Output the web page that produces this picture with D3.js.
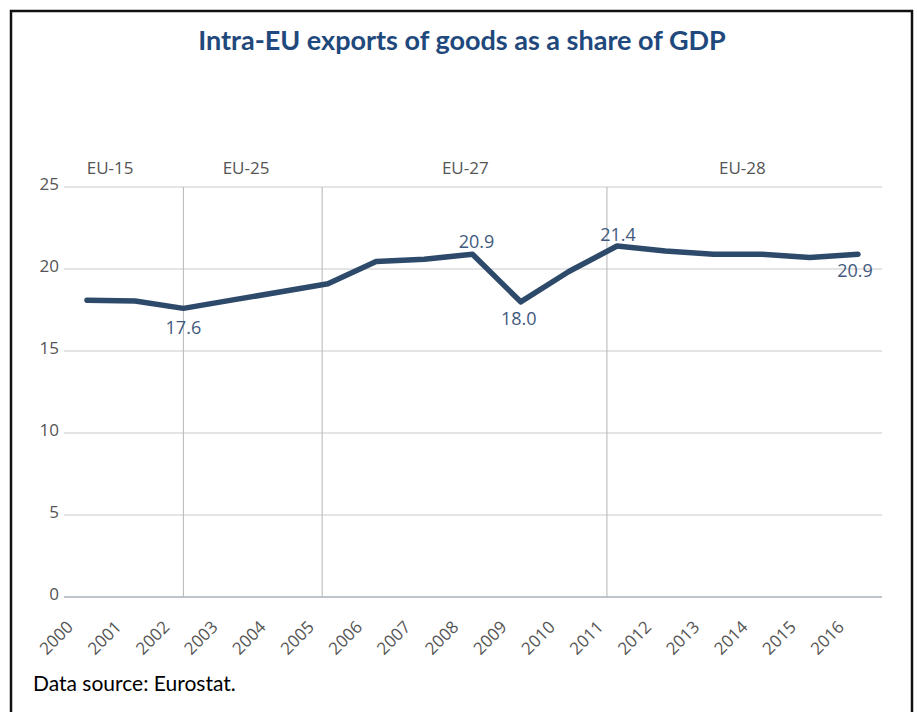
<!DOCTYPE html>
<html>
<head>
<meta charset="utf-8">
<script src="https://cdn.jsdelivr.net/npm/d3@7"></script>
<style>
  body { margin: 0; background: #fff; }
  svg { display: block; }
</style>
</head>
<body>
<div id="chart"></div>
<script>
// data
const years = [2000, 2001, 2002, 2003, 2004, 2005, 2006, 2007, 2008, 2009, 2010, 2011, 2012, 2013, 2014, 2015, 2016];
const shares = [18.1, 18.05, 17.6, 18.1, 18.6, 19.1, 20.45, 20.6, 20.9, 18.0, 19.85, 21.4, 21.1, 20.9, 20.9, 20.7, 20.9];
const yTicks = [0, 5, 10, 15, 20, 25];
// enlargement markers (fractional year positions) and the EU group names
const boundaries = [2002, 2004.88, 2010.79];
const groups = ["EU-15", "EU-25", "EU-27", "EU-28"];
const groupLabelYears = [2000.48, 2003.3, 2007.85, 2013.6];
// annotated points
const labelled = [
  { year: 2002, text: "17.6", dx: 0, dy: 19 },
  { year: 2008, text: "20.9", dx: 4, dy: -13 },
  { year: 2009, text: "18.0", dx: -2, dy: 17 },
  { year: 2011, text: "21.4", dx: 1, dy: -11 },
  { year: 2016, text: "20.9", dx: -3, dy: 16 }
];

const width = 917, height = 712;
const svg = d3.select("#chart").append("svg").attr("width", width).attr("height", height);

const tickFont = "'Open Sans', 'DejaVu Sans', sans-serif";

// outer frame
svg.append("path")
  .attr("d", `M11,${height} V11 H912 V${height}`)
  .attr("fill", "none")
  .attr("stroke", "#111")
  .attr("stroke-width", 2.5);

svg.append("text")
  .attr("x", 462).attr("y", 50)
  .attr("text-anchor", "middle")
  .attr("font-family", "Lato, sans-serif")
  .attr("font-weight", "bold")
  .attr("font-size", "27px")
  .attr("fill", "#1f497d")
  .text("Intra-EU exports of goods as a share of GDP");

const plotLeft = 64, plotRight = 882, plotTop = 187, plotBottom = 597;
const x = d3.scaleLinear().domain([2000, 2016]).range([87, 858]);
const y = d3.scaleLinear().domain([0, 25]).range([plotBottom, plotTop]);

// horizontal grid
svg.append("g")
  .selectAll("line")
  .data(yTicks)
  .enter().append("line")
  .attr("x1", plotLeft).attr("x2", plotRight)
  .attr("y1", d => y(d)).attr("y2", d => y(d))
  .attr("stroke", d => d === 0 ? "#aab2bc" : "#c9c9c9")
  .attr("stroke-width", d => d === 0 ? 1.5 : 1);

// y tick labels
svg.append("g")
  .selectAll("text")
  .data(yTicks)
  .enter().append("text")
  .attr("x", 59).attr("y", d => y(d) - 3)
  .attr("dy", "0.35em")
  .attr("text-anchor", "end")
  .attr("font-family", tickFont)
  .attr("font-size", "17px")
  .attr("fill", "#555")
  .text(d => d);

// enlargement boundaries
svg.append("g")
  .selectAll("line")
  .data(boundaries)
  .enter().append("line")
  .attr("x1", d => x(d)).attr("x2", d => x(d))
  .attr("y1", plotTop).attr("y2", plotBottom)
  .attr("stroke", "#b5b5b5")
  .attr("stroke-width", 1);

svg.append("g")
  .selectAll("text")
  .data(groups)
  .enter().append("text")
  .attr("x", (d, i) => x(groupLabelYears[i]))
  .attr("y", 174)
  .attr("text-anchor", "middle")
  .attr("font-family", tickFont)
  .attr("font-size", "17px")
  .attr("fill", "#555")
  .text(d => d);

// x tick labels, rotated
svg.append("g")
  .selectAll("text")
  .data(years)
  .enter().append("text")
  .attr("transform", d => `translate(${x(d) - 17},${plotBottom + 27}) rotate(-45)`)
  .attr("text-anchor", "end")
  .attr("dy", "0.35em")
  .attr("font-family", tickFont)
  .attr("font-size", "17px")
  .attr("fill", "#555")
  .text(d => d);

// the series
const line = d3.line()
  .x((d, i) => x(years[i]))
  .y(d => y(d));

svg.append("path")
  .datum(shares)
  .attr("d", line)
  .attr("fill", "none")
  .attr("stroke", "#2e4a6b")
  .attr("stroke-width", 5.5)
  .attr("stroke-linejoin", "round")
  .attr("stroke-linecap", "round");

svg.append("g")
  .selectAll("text")
  .data(labelled)
  .enter().append("text")
  .attr("x", d => x(d.year) + d.dx)
  .attr("y", d => y(shares[years.indexOf(d.year)]) + d.dy)
  .attr("dy", "0.35em")
  .attr("text-anchor", "middle")
  .attr("font-family", tickFont)
  .attr("font-size", "18px")
  .attr("fill", "#3f5a7e")
  .text(d => d.text);

svg.append("text")
  .attr("x", 33).attr("y", 691)
  .attr("font-family", "Lato, sans-serif")
  .attr("font-size", "21px")
  .attr("fill", "#000")
  .text("Data source: Eurostat.");
</script>
</body>
</html>
